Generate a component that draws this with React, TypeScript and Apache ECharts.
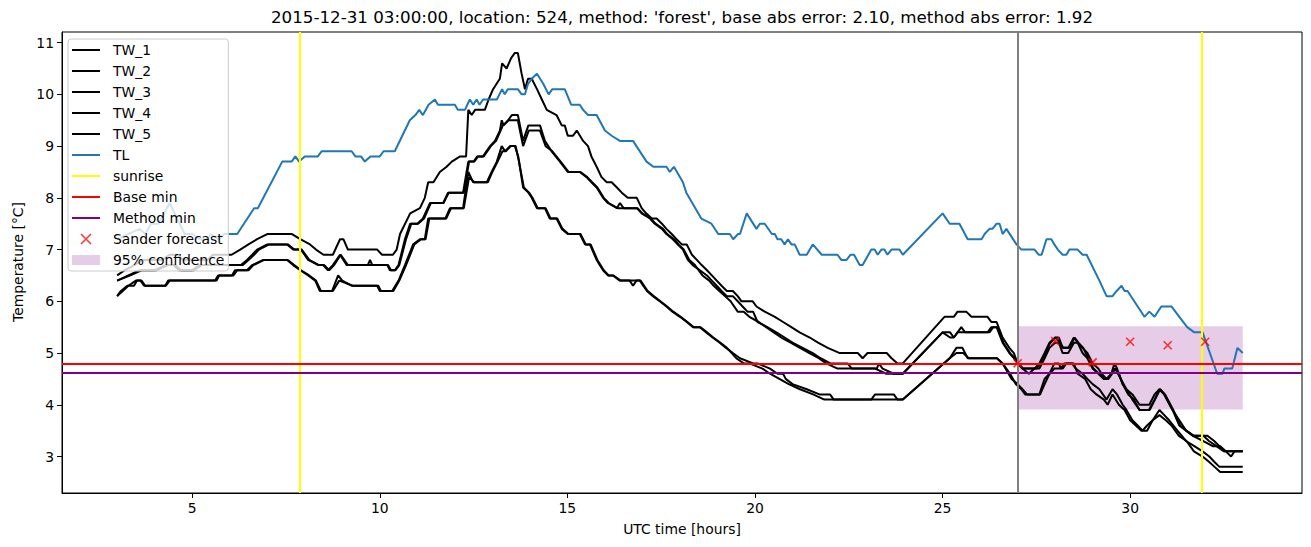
import React, { useEffect, useRef } from "react";
import * as echarts from "echarts";

// ---------- data (hour, °C) ----------
const TITLE =
  "2015-12-31 03:00:00, location: 524, method: 'forest', base abs error: 2.10, method abs error: 1.92";

const X_TICKS = [5, 10, 15, 20, 25, 30];
const Y_TICKS = [3, 4, 5, 6, 7, 8, 9, 10, 11];

const TW_1 = [
  [3.0, 6.5], [3.2, 6.6], [3.45, 6.7], [3.7, 6.8], [4.2, 6.8], [4.4, 6.9], [4.6, 6.9], [4.75, 6.8], [5.4, 6.8], [5.55, 6.9],
  [6.05, 6.9], [6.28, 7.0], [6.5, 7.1], [6.73, 7.2], [7.0, 7.3], [7.66, 7.3], [7.88, 7.2], [8.14, 7.1], [8.3, 7.0], [8.5, 6.9],
  [8.75, 6.9], [8.94, 7.2], [9.03, 7.2], [9.15, 7.0], [9.93, 7.0], [10.06, 6.9], [10.35, 6.9], [10.45, 7.0], [10.54, 7.3], [10.81, 7.7],
  [11.07, 7.8], [11.2, 8.0], [11.29, 8.3], [11.43, 8.3], [11.6, 8.5], [11.78, 8.6], [11.92, 8.7], [12.14, 8.8], [12.3, 8.8], [12.36, 9.7],
  [12.45, 9.6], [12.54, 9.7], [12.8, 9.7], [12.9, 9.9], [13.02, 10.1], [13.2, 10.3], [13.26, 10.6], [13.38, 10.5], [13.5, 10.7], [13.6, 10.8],
  [13.68, 10.8], [13.78, 10.4], [13.87, 10.1], [13.95, 10.3], [14.05, 10.3], [14.19, 10.1], [14.32, 9.9], [14.45, 9.7], [14.71, 9.6], [14.85, 9.4],
  [14.93, 9.4], [15.01, 9.2], [15.15, 9.2], [15.25, 9.3], [15.42, 9.1], [15.55, 9.0], [15.64, 8.8], [15.78, 8.6], [15.91, 8.4], [16.05, 8.3],
  [16.18, 8.3], [16.32, 8.2], [16.45, 8.1], [16.61, 8.0], [16.85, 8.0], [16.98, 7.8], [17.1, 7.7], [17.25, 7.6], [17.38, 7.6], [17.52, 7.5],
  [17.64, 7.4], [17.78, 7.3], [17.91, 7.2], [18.05, 7.1], [18.18, 7.1], [18.32, 6.9], [18.45, 6.8], [18.58, 6.7], [18.72, 6.6], [18.85, 6.5],
  [18.98, 6.4], [19.11, 6.3], [19.25, 6.2], [19.41, 6.2], [19.54, 6.1], [19.64, 6.0], [19.94, 6.0], [20.04, 5.9], [20.26, 5.8], [20.53, 5.7],
  [20.75, 5.6], [20.97, 5.5], [21.19, 5.4], [21.46, 5.3], [21.68, 5.2], [21.94, 5.1], [22.26, 5.0], [22.74, 5.0], [22.87, 4.9], [23.0, 5.0],
  [23.51, 5.0], [23.64, 4.9], [23.8, 4.8], [23.94, 4.8], [25.05, 5.7], [25.3, 5.7], [25.4, 5.8], [25.63, 5.8], [25.77, 5.7], [26.2, 5.7],
  [26.3, 5.6], [26.44, 5.6], [26.6, 5.3], [26.78, 5.1], [26.9, 5.0], [27.0, 4.8], [27.13, 4.7], [27.45, 4.7], [27.58, 4.8], [27.72, 5.0],
  [27.85, 5.2], [28.0, 5.3], [28.1, 5.3], [28.2, 5.1], [28.35, 5.1], [28.5, 5.3], [28.6, 5.2], [28.73, 5.1], [28.86, 5.0], [29.0, 4.8],
  [29.15, 4.7], [29.24, 4.6], [29.37, 4.5], [29.5, 4.6], [29.58, 4.8], [29.65, 4.7], [29.8, 4.4], [29.9, 4.3], [30.06, 4.2], [30.25, 4.0],
  [30.51, 4.0], [30.65, 4.2], [30.78, 4.3], [30.91, 4.2], [31.13, 3.9], [31.31, 3.7], [31.49, 3.5], [31.67, 3.4], [31.89, 3.4], [32.06, 3.4],
  [32.24, 3.3], [32.38, 3.2], [32.51, 3.1], [33.0, 3.1],
];

const TW_2 = [
  [3.0, 6.4], [3.3, 6.5], [3.6, 6.6], [4.0, 6.6], [4.3, 6.7], [4.5, 6.7], [4.65, 6.6], [5.0, 6.6], [5.2, 6.7], [6.3, 6.7],
  [6.46, 6.8], [6.6, 6.9], [6.73, 7.0], [7.0, 7.1], [7.53, 7.1], [7.69, 7.0], [7.9, 7.0], [8.09, 6.8], [8.36, 6.7], [8.49, 6.7],
  [8.62, 6.6], [8.75, 6.7], [8.94, 6.9], [9.12, 6.7], [9.68, 6.7], [9.74, 6.8], [9.8, 6.7], [10.2, 6.7], [10.27, 6.6], [10.4, 6.6],
  [10.5, 6.7], [10.67, 7.2], [10.81, 7.5], [11.0, 7.5], [11.15, 7.6], [11.34, 7.9], [11.69, 7.9], [11.82, 8.1], [12.22, 8.1], [12.36, 8.7],
  [12.5, 8.7], [12.6, 8.8], [12.75, 8.8], [12.94, 9.0], [13.07, 9.1], [13.2, 9.3], [13.25, 9.5], [13.3, 9.4], [13.42, 9.5], [13.52, 9.6],
  [13.68, 9.6], [13.82, 9.1], [13.96, 9.4], [14.27, 9.4], [14.4, 9.1], [14.58, 8.9], [14.8, 8.7], [15.01, 8.5], [15.33, 8.5], [15.51, 8.4],
  [15.64, 8.3], [15.78, 8.2], [15.95, 8.0], [16.08, 7.9], [16.32, 7.8], [16.4, 7.9], [16.5, 7.8], [16.85, 7.8], [16.98, 7.7], [17.2, 7.6],
  [17.33, 7.5], [17.52, 7.4], [17.64, 7.3], [17.81, 7.2], [17.94, 7.1], [18.08, 7.0], [18.21, 6.8], [18.34, 6.7], [18.53, 6.6], [18.72, 6.5],
  [18.85, 6.4], [18.98, 6.3], [19.11, 6.2], [19.25, 6.1], [19.41, 6.1], [19.54, 6.0], [19.67, 5.9], [19.8, 5.8], [19.95, 5.8], [20.07, 5.6],
  [20.33, 5.5], [20.57, 5.4], [20.79, 5.3], [21.0, 5.2], [21.27, 5.1], [21.54, 5.0], [21.75, 4.9], [22.01, 4.8], [22.47, 4.8], [22.58, 4.7],
  [23.25, 4.7], [23.3, 4.8], [23.4, 4.7], [23.7, 4.6], [23.94, 4.6], [25.0, 5.4], [25.2, 5.4], [25.3, 5.3], [25.4, 5.4], [25.5, 5.5],
  [25.6, 5.4], [26.2, 5.4], [26.3, 5.5], [26.44, 5.5], [26.6, 5.2], [26.78, 5.0], [26.9, 4.9], [27.0, 4.8], [27.13, 4.7], [27.3, 4.6],
  [27.45, 4.7], [27.58, 4.7], [27.72, 4.9], [27.85, 5.1], [28.0, 5.2], [28.1, 5.2], [28.2, 5.0], [28.35, 5.0], [28.5, 5.2], [28.6, 5.2],
  [28.73, 5.0], [28.86, 4.9], [29.0, 4.7], [29.15, 4.6], [29.3, 4.5], [29.4, 4.5], [29.5, 4.6], [29.6, 4.7], [29.7, 4.6], [29.8, 4.4],
  [29.95, 4.2], [30.1, 4.1], [30.25, 3.9], [30.5, 3.9], [30.65, 4.1], [30.78, 4.3], [30.91, 4.2], [31.13, 3.9], [31.31, 3.6], [31.49, 3.5],
  [31.67, 3.4], [31.95, 3.3], [32.2, 3.2], [32.4, 3.2], [32.55, 3.1], [32.69, 3.0], [32.78, 3.1], [33.0, 3.1],
];

const TW_3 = [
  [3.0, 6.4], [3.35, 6.5], [3.65, 6.6], [4.05, 6.6], [4.35, 6.7], [4.55, 6.7], [4.7, 6.6], [5.05, 6.6], [5.25, 6.7], [6.35, 6.7],
  [6.5, 6.8], [6.65, 6.9], [6.78, 7.0], [7.05, 7.1], [7.55, 7.1], [7.72, 7.0], [7.92, 7.0], [8.12, 6.8], [8.38, 6.7], [8.52, 6.7],
  [8.65, 6.6], [8.78, 6.7], [8.96, 6.9], [9.15, 6.7], [10.22, 6.7], [10.3, 6.6], [10.42, 6.6], [10.52, 6.7], [10.7, 7.2], [10.84, 7.5],
  [11.02, 7.5], [11.18, 7.6], [11.36, 7.9], [11.7, 7.9], [11.84, 8.1], [12.24, 8.1], [12.38, 8.7], [12.52, 8.7], [12.62, 8.8], [12.77, 8.8],
  [12.96, 9.0], [13.1, 9.1], [13.22, 9.3], [13.28, 9.4], [13.44, 9.5], [13.55, 9.5], [13.68, 9.5], [13.82, 9.0], [13.97, 9.3], [14.27, 9.3],
  [14.42, 9.0], [14.6, 8.9], [14.82, 8.7], [15.03, 8.5], [15.35, 8.5], [15.53, 8.4], [15.66, 8.3], [15.8, 8.2], [15.97, 8.0], [16.1, 7.9],
  [16.34, 7.8], [16.87, 7.8], [17.0, 7.7], [17.22, 7.6], [17.35, 7.5], [17.55, 7.4], [17.66, 7.3], [17.84, 7.2], [17.96, 7.1], [18.1, 7.0],
  [18.25, 6.8], [18.4, 6.7], [18.6, 6.5], [18.78, 6.4], [18.9, 6.3], [19.05, 6.2], [19.2, 6.1], [19.35, 6.0], [19.54, 5.8], [19.7, 5.8],
  [19.85, 5.7], [20.1, 5.6], [20.3, 5.5], [20.5, 5.4], [20.7, 5.3], [20.95, 5.2], [21.2, 5.1], [21.45, 5.0], [21.7, 4.9], [21.9, 4.8],
  [22.2, 4.7], [23.2, 4.7], [23.5, 4.6], [23.94, 4.6], [25.0, 5.4], [25.2, 5.3], [25.3, 5.3], [25.4, 5.4], [26.25, 5.4], [26.35, 5.5],
  [26.47, 5.5], [26.62, 5.2], [26.8, 5.0], [26.92, 4.9], [27.02, 4.8], [27.15, 4.7], [27.5, 4.7], [27.6, 4.8], [27.74, 5.0], [27.87, 5.2],
  [28.02, 5.3], [28.12, 5.2], [28.22, 5.1], [28.38, 5.1], [28.52, 5.3], [28.62, 5.2], [28.75, 5.1], [28.88, 4.9], [29.02, 4.7], [29.17, 4.6],
  [29.3, 4.5], [29.42, 4.5], [29.52, 4.6], [29.6, 4.7], [29.75, 4.5], [29.9, 4.3], [30.06, 4.1], [30.25, 3.9], [30.52, 3.9], [30.66, 4.1],
  [30.8, 4.3], [30.93, 4.2], [31.15, 3.9], [31.33, 3.6], [31.5, 3.5], [31.7, 3.4], [31.95, 3.4], [32.1, 3.3], [32.3, 3.2], [32.5, 3.1],
  [33.0, 3.1],
];

const TW_4 = [
  [3.0, 6.1], [3.1, 6.2], [3.27, 6.3], [3.45, 6.3], [3.53, 6.4], [3.65, 6.4], [3.75, 6.3], [4.28, 6.3], [4.36, 6.4], [5.61, 6.4],
  [5.69, 6.5], [6.06, 6.5], [6.14, 6.6], [6.46, 6.6], [6.6, 6.7], [6.89, 6.8], [7.53, 6.8], [7.69, 6.7], [7.88, 6.6], [8.09, 6.5],
  [8.28, 6.4], [8.4, 6.2], [8.73, 6.2], [8.89, 6.5], [9.0, 6.4], [9.26, 6.3], [9.93, 6.3], [10.0, 6.2], [10.33, 6.2], [10.5, 6.4],
  [10.67, 6.7], [10.89, 7.1], [11.07, 7.2], [11.2, 7.2], [11.29, 7.6], [11.75, 7.6], [11.87, 7.8], [12.22, 7.8], [12.36, 8.5], [12.49, 8.3],
  [12.85, 8.3], [12.98, 8.5], [13.12, 8.7], [13.25, 9.0], [13.34, 8.9], [13.47, 9.0], [13.6, 9.0], [13.69, 8.8], [13.82, 8.2], [13.96, 8.1],
  [14.05, 8.0], [14.19, 7.8], [14.4, 7.8], [14.53, 7.6], [14.71, 7.6], [14.85, 7.4], [15.01, 7.3], [15.33, 7.3], [15.47, 7.1], [15.6, 7.1],
  [15.78, 6.8], [15.95, 6.6], [16.08, 6.5], [16.21, 6.5], [16.4, 6.4], [16.66, 6.4], [16.75, 6.3], [16.84, 6.4], [16.93, 6.4], [17.12, 6.2],
  [17.28, 6.1], [17.46, 6.0], [17.64, 5.9], [17.8, 5.8], [18.0, 5.7], [18.18, 5.6], [18.35, 5.5], [18.53, 5.5], [18.7, 5.4], [18.87, 5.3],
  [19.06, 5.2], [19.23, 5.1], [19.41, 5.0], [19.6, 4.9], [19.95, 4.8], [20.07, 4.8], [20.4, 4.7], [20.6, 4.6], [20.75, 4.6], [20.82, 4.5],
  [21.0, 4.4], [21.38, 4.3], [21.72, 4.2], [22.0, 4.2], [22.1, 4.1], [23.1, 4.1], [23.2, 4.2], [23.7, 4.2], [23.8, 4.1], [23.94, 4.1],
  [25.19, 4.9], [25.37, 5.1], [25.53, 5.1], [25.67, 4.9], [26.45, 4.9], [26.6, 4.8], [26.84, 4.5], [27.0, 4.4], [27.13, 4.3], [27.25, 4.2],
  [27.58, 4.2], [27.72, 4.5], [27.85, 4.6], [27.98, 4.8], [28.1, 4.8], [28.15, 4.7], [28.25, 4.8], [28.45, 4.8], [28.55, 4.7], [28.73, 4.6],
  [28.86, 4.5], [29.0, 4.4], [29.18, 4.3], [29.37, 4.1], [29.53, 4.3], [29.65, 4.2], [29.8, 4.0], [29.9, 3.9], [30.06, 3.7], [30.2, 3.6],
  [30.33, 3.5], [30.45, 3.6], [30.6, 3.7], [30.78, 3.9], [30.91, 3.8], [31.04, 3.7], [31.26, 3.5], [31.49, 3.3], [31.71, 3.2], [31.93, 3.1],
  [32.11, 3.0], [32.24, 2.9], [32.38, 2.8], [33.0, 2.8],
];

const TW_5 = [
  [3.0, 6.1], [3.15, 6.2], [3.3, 6.3], [3.5, 6.4], [3.62, 6.4], [3.72, 6.3], [4.3, 6.3], [4.4, 6.4], [5.65, 6.4], [5.72, 6.5],
  [6.1, 6.5], [6.2, 6.6], [6.5, 6.6], [6.63, 6.7], [6.92, 6.8], [7.55, 6.8], [7.72, 6.7], [7.9, 6.6], [8.12, 6.5], [8.3, 6.4],
  [8.43, 6.2], [8.75, 6.2], [8.92, 6.4], [9.28, 6.3], [9.96, 6.3], [10.03, 6.2], [10.36, 6.2], [10.52, 6.4], [10.7, 6.7], [10.92, 7.1],
  [11.1, 7.2], [11.22, 7.2], [11.32, 7.6], [11.77, 7.6], [11.9, 7.8], [12.24, 7.8], [12.38, 8.4], [12.52, 8.3], [12.88, 8.3], [13.0, 8.5],
  [13.14, 8.7], [13.27, 8.9], [13.36, 8.9], [13.49, 9.0], [13.62, 9.0], [13.71, 8.7], [13.84, 8.2], [13.98, 8.1], [14.07, 8.0], [14.21, 7.8],
  [14.42, 7.8], [14.55, 7.6], [14.73, 7.6], [14.87, 7.4], [15.03, 7.3], [15.35, 7.3], [15.49, 7.1], [15.62, 7.1], [15.8, 6.8], [15.97, 6.6],
  [16.1, 6.5], [16.23, 6.5], [16.42, 6.4], [16.95, 6.4], [17.14, 6.2], [17.3, 6.1], [17.48, 6.0], [17.66, 5.9], [17.82, 5.8], [18.02, 5.7],
  [18.2, 5.6], [18.37, 5.5], [18.55, 5.5], [18.72, 5.4], [18.89, 5.3], [19.08, 5.2], [19.25, 5.1], [19.38, 5.0], [19.5, 4.9], [19.7, 4.8],
  [19.85, 4.8], [20.2, 4.7], [20.4, 4.6], [20.65, 4.5], [20.9, 4.4], [21.2, 4.3], [21.55, 4.2], [21.85, 4.1], [23.94, 4.1], [25.19, 4.9],
  [25.37, 5.0], [25.55, 5.0], [25.7, 4.9], [26.45, 4.9], [26.6, 4.8], [26.8, 4.6], [26.95, 4.4], [27.1, 4.3], [27.2, 4.2], [27.6, 4.2],
  [27.72, 4.4], [27.85, 4.6], [27.98, 4.7], [28.2, 4.7], [28.3, 4.8], [28.5, 4.8], [28.6, 4.6], [28.8, 4.5], [28.95, 4.3], [29.1, 4.2],
  [29.3, 4.1], [29.4, 4.0], [29.53, 4.2], [29.7, 4.0], [29.85, 3.9], [30.0, 3.7], [30.15, 3.6], [30.3, 3.5], [30.45, 3.5], [30.6, 3.7],
  [30.78, 3.8], [30.95, 3.7], [31.1, 3.6], [31.3, 3.4], [31.5, 3.3], [31.7, 3.1], [31.93, 3.0], [32.1, 2.9], [32.25, 2.8], [32.4, 2.7],
  [33.0, 2.7],
];

const TL = [
  [3.0, 7.2], [3.3, 7.3], [3.6, 7.4], [3.75, 7.3], [3.9, 7.5], [4.1, 7.5], [4.25, 7.7], [4.4, 7.9], [4.6, 7.6], [4.8, 7.3],
  [5.0, 7.3], [5.2, 7.2], [5.4, 7.2], [5.5, 7.3], [5.7, 7.2], [5.85, 7.3], [6.2, 7.3], [6.65, 7.8], [6.75, 7.8], [7.4, 8.7],
  [7.65, 8.7], [7.75, 8.8], [7.85, 8.7], [8.0, 8.8], [8.35, 8.8], [8.45, 8.9], [9.25, 8.9], [9.35, 8.8], [9.5, 8.8], [9.6, 8.7],
  [9.75, 8.8], [10.0, 8.8], [10.1, 8.9], [10.4, 8.9], [10.8, 9.5], [10.95, 9.6], [11.05, 9.7], [11.15, 9.6], [11.3, 9.8], [11.47, 9.9],
  [11.55, 9.8], [12.0, 9.8], [12.08, 9.7], [12.27, 9.7], [12.4, 9.9], [12.49, 9.8], [12.58, 9.9], [12.66, 9.8], [12.75, 9.9], [13.12, 9.9],
  [13.26, 10.1], [13.33, 10.0], [13.41, 10.1], [13.68, 10.1], [13.78, 10.0], [13.87, 10.0], [13.95, 10.2], [14.05, 10.3], [14.19, 10.4], [14.36, 10.2],
  [14.5, 10.0], [14.6, 10.1], [14.93, 10.1], [15.1, 9.8], [15.33, 9.8], [15.42, 9.7], [15.55, 9.6], [15.78, 9.6], [16.0, 9.3], [16.18, 9.2],
  [16.4, 9.1], [16.75, 9.1], [16.84, 9.0], [17.11, 8.7], [17.29, 8.6], [17.64, 8.6], [17.73, 8.5], [17.84, 8.6], [18.08, 8.3], [18.17, 8.1],
  [18.57, 7.6], [18.84, 7.5], [19.02, 7.3], [19.33, 7.3], [19.42, 7.2], [19.55, 7.3], [19.6, 7.3], [19.78, 7.7], [20.04, 7.4], [20.13, 7.5],
  [20.26, 7.5], [20.45, 7.3], [20.53, 7.3], [20.6, 7.2], [20.7, 7.2], [20.79, 7.1], [20.88, 7.2], [20.97, 7.1], [21.06, 7.1], [21.19, 6.9],
  [21.38, 6.9], [21.54, 7.1], [21.78, 6.9], [22.2, 6.9], [22.3, 6.8], [22.44, 6.8], [22.55, 6.9], [22.64, 6.9], [22.79, 6.7], [22.87, 6.7],
  [23.1, 7.0], [23.19, 7.0], [23.27, 6.9], [23.37, 7.0], [23.45, 7.0], [23.53, 6.9], [23.64, 7.0], [23.85, 7.0], [23.94, 6.9], [25.0, 7.7],
  [25.19, 7.5], [25.45, 7.5], [25.67, 7.2], [26.04, 7.2], [26.12, 7.3], [26.25, 7.4], [26.33, 7.4], [26.44, 7.5], [26.52, 7.5], [26.6, 7.3],
  [26.7, 7.4], [26.97, 7.1], [27.1, 7.0], [27.45, 7.0], [27.56, 6.9], [27.64, 6.9], [27.77, 7.2], [27.9, 7.2], [27.98, 7.1], [28.07, 7.0],
  [28.2, 6.9], [28.3, 6.9], [28.38, 7.0], [28.6, 7.0], [28.73, 6.9], [28.84, 6.9], [29.18, 6.4], [29.37, 6.1], [29.53, 6.1], [29.64, 6.2],
  [29.77, 6.3], [29.85, 6.2], [29.93, 6.2], [30.38, 5.7], [30.51, 5.8], [30.65, 5.7], [30.83, 5.9], [31.1, 5.9], [31.31, 5.7], [31.52, 5.5],
  [31.71, 5.4], [31.93, 5.4], [32.32, 4.6], [32.46, 4.6], [32.51, 4.7], [32.72, 4.7], [32.86, 5.1], [33.0, 5.0],
];

const SUNRISE = [7.88, 31.9];
const NOW = 27.0;
const BASE_MIN = 4.8;
const METHOD_MIN = 4.62;
const SANDER = [
  [27, 4.8], [28, 5.23], [29, 4.82], [30, 5.22], [31, 5.15], [32, 5.22],
];
const CONF_X = [27.0, 33.0];
const CONF_Y = [3.91, 5.52];

const TW_NAMES = ["TW_1", "TW_2", "TW_3", "TW_4", "TW_5"];
const TW_DATA = [TW_1, TW_2, TW_3, TW_4, TW_5];

// ---------- styles ----------
const FONT = '"DejaVu Sans", "Liberation Sans", sans-serif';
const CONF_COLOR = "rgba(128,0,128,0.2)";
const X_PATH = "path://M0,0L10,10M10,0L0,10";
const LINE_ICON = "path://M0,0L28,0L28,2L0,2Z";

export default function App() {
  const ref = useRef<HTMLDivElement>(null);

  useEffect(() => {
    if (!ref.current) return;
    const chart = echarts.init(ref.current, null, { renderer: "svg" });

    const lineSeries = (name: string, data: number[][], color: string) => ({
      name,
      type: "line",
      data,
      symbol: "none",
      showSymbol: false,
      silent: true,
      z: 3,
      itemStyle: { color },
      lineStyle: { color, width: 2 },
      emphasis: { disabled: true },
    });

    const lineLegend = (name: string, color: string) => ({
      name,
      icon: LINE_ICON,
      itemStyle: { color, borderWidth: 0 },
    });

    const option: any = {
      animation: false,
      backgroundColor: "#ffffff",
      textStyle: { fontFamily: FONT },
      grid: {
        left: 62,
        right: 9,
        top: 32,
        bottom: 54,
        show: true,
        borderColor: "#000",
        borderWidth: 1,
        backgroundColor: "transparent",
      },
      xAxis: {
        type: "value",
        min: 1.53,
        max: 34.58,
        axisLine: { show: true, lineStyle: { color: "#000", width: 1 } },
        axisTick: {
          show: true,
          inside: false,
          length: 5,
          customValues: X_TICKS,
          lineStyle: { color: "#000", width: 1 },
        },
        axisLabel: {
          customValues: X_TICKS,
          margin: 8,
          color: "#000",
          fontSize: 13.9,
          fontFamily: FONT,
        },
        splitLine: { show: false },
      },
      yAxis: {
        type: "value",
        min: 2.295,
        max: 11.205,
        axisLine: { show: true, lineStyle: { color: "#000", width: 1 } },
        axisTick: {
          show: true,
          inside: false,
          length: 5,
          customValues: Y_TICKS,
          lineStyle: { color: "#000", width: 1 },
        },
        axisLabel: {
          customValues: Y_TICKS,
          margin: 8,
          color: "#000",
          fontSize: 13.9,
          fontFamily: FONT,
        },
        splitLine: { show: false },
      },
      legend: {
        orient: "vertical",
        left: 68,
        top: 39,
        itemWidth: 28,
        itemHeight: 10,
        itemGap: 7,
        padding: [4, 4, 4, 4],
        backgroundColor: "rgba(255,255,255,0.8)",
        borderColor: "#cccccc",
        borderWidth: 1,
        borderRadius: 3,
        selectedMode: false,
        textStyle: {
          fontFamily: FONT,
          fontSize: 13.9,
          color: "#000",
          lineHeight: 14,
          padding: [0, 0, 0, 8],
        },
        data: [
          ...TW_NAMES.map((n) => lineLegend(n, "#000000")),
          lineLegend("TL", "#1f77b4"),
          lineLegend("sunrise", "#ffff00"),
          lineLegend("Base min", "#ff0000"),
          lineLegend("Method min", "#800080"),
          {
            name: "Sander forecast",
            icon: "path://M0,0L8,8M8,0L0,8",
            itemStyle: { color: "rgba(0,0,0,0)", borderColor: "#ff0000", borderWidth: 1.5 },
          },
          { name: "95% confidence", icon: "rect", itemStyle: { color: CONF_COLOR, borderWidth: 0 } },
        ],
      },
      graphic: [
        {
          type: "text",
          x: 682,
          y: 17,
          silent: true,
          style: {
            text: TITLE,
            font: `16.7px ${FONT}`,
            fill: "#000",
            align: "center",
            verticalAlign: "middle",
            textAlign: "center",
            textVerticalAlign: "middle",
          },
        },
        {
          type: "text",
          x: 682,
          y: 529,
          silent: true,
          style: {
            text: "UTC time [hours]",
            font: `13.9px ${FONT}`,
            fill: "#000",
            align: "center",
            verticalAlign: "middle",
            textAlign: "center",
            textVerticalAlign: "middle",
          },
        },
        {
          type: "text",
          x: 18,
          y: 262,
          rotation: Math.PI / 2,
          silent: true,
          style: {
            text: "Temperature [°C]",
            font: `13.9px ${FONT}`,
            fill: "#000",
            align: "center",
            verticalAlign: "middle",
            textAlign: "center",
            textVerticalAlign: "middle",
          },
        },
      ],
      series: [
        {
          name: "95% confidence",
          type: "line",
          data: [],
          symbol: "none",
          z: 1,
          itemStyle: { color: CONF_COLOR },
          lineStyle: { color: CONF_COLOR },
          markArea: {
            silent: true,
            itemStyle: { color: CONF_COLOR },
            label: { show: false },
            data: [[{ xAxis: CONF_X[0], yAxis: CONF_Y[0] }, { xAxis: CONF_X[1], yAxis: CONF_Y[1] }]],
          },
        },
        ...TW_NAMES.map((n, i) => lineSeries(n, TW_DATA[i], "#000000")),
        lineSeries("TL", TL, "#1f77b4"),
        {
          name: "sunrise",
          type: "line",
          data: [],
          symbol: "none",
          z: 4,
          itemStyle: { color: "#ffff00" },
          lineStyle: { color: "#ffff00", width: 2 },
          markLine: {
            silent: true,
            symbol: ["none", "none"],
            label: { show: false },
            lineStyle: { color: "#ffff00", width: 2, type: "solid" },
            data: SUNRISE.map((x) => ({ xAxis: x })),
          },
        },
        {
          name: "Base min",
          type: "line",
          data: [],
          symbol: "none",
          z: 4,
          itemStyle: { color: "#ff0000" },
          lineStyle: { color: "#ff0000", width: 2 },
          markLine: {
            silent: true,
            symbol: ["none", "none"],
            label: { show: false },
            lineStyle: { color: "#ff0000", width: 2, type: "solid" },
            data: [{ yAxis: BASE_MIN }],
          },
        },
        {
          name: "Method min",
          type: "line",
          data: [],
          symbol: "none",
          z: 4,
          itemStyle: { color: "#800080" },
          lineStyle: { color: "#800080", width: 2 },
          markLine: {
            silent: true,
            symbol: ["none", "none"],
            label: { show: false },
            lineStyle: { color: "#800080", width: 2, type: "solid" },
            data: [{ yAxis: METHOD_MIN }],
          },
        },
        {
          name: "now",
          type: "line",
          data: [],
          symbol: "none",
          z: 4,
          itemStyle: { color: "#808080" },
          markLine: {
            silent: true,
            symbol: ["none", "none"],
            label: { show: false },
            lineStyle: { color: "#808080", width: 2, type: "solid" },
            data: [{ xAxis: NOW }],
          },
        },
        {
          name: "Sander forecast",
          type: "scatter",
          data: SANDER,
          symbol: X_PATH,
          symbolSize: 8,
          z: 5,
          silent: true,
          itemStyle: { color: "rgba(0,0,0,0)", borderColor: "#ff0000", borderWidth: 1.5 },
          emphasis: { disabled: true },
        },
      ],
    };

    chart.setOption(option);
    return () => chart.dispose();
  }, []);

  return (
    <div
      ref={ref}
      style={{ position: "absolute", left: 0, top: 0, width: 1311, height: 547, background: "#fff" }}
    />
  );
}
